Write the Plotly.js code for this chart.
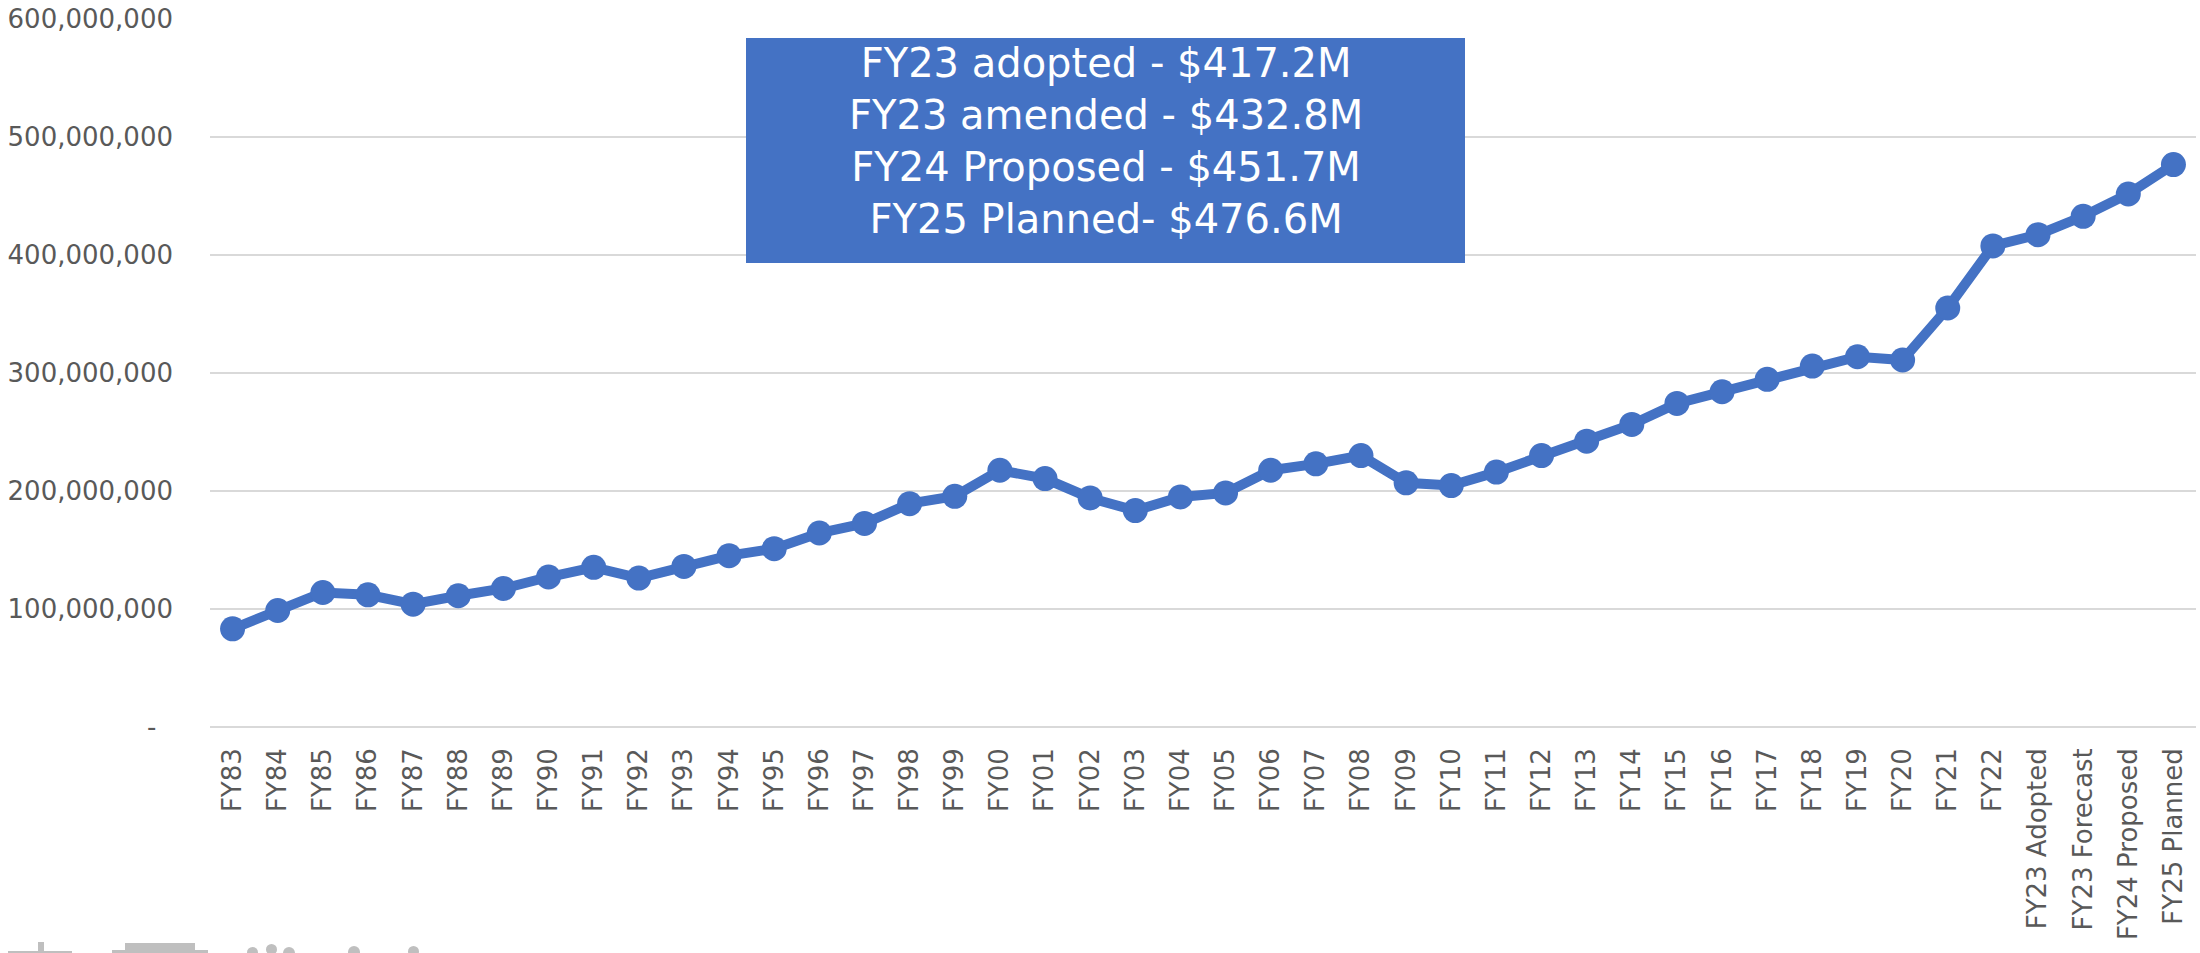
<!DOCTYPE html>
<html>
<head>
<meta charset="utf-8">
<script src="https://cdn.plot.ly/plotly-3.0.1.min.js"></script>
<style>
html, body { margin: 0; padding: 0; background: #ffffff; }
#chart { width: 2200px; height: 953px; }
</style>
</head>
<body>
<div id="chart"></div>
<script>
const categories = [
  "FY83","FY84","FY85","FY86","FY87","FY88","FY89","FY90","FY91","FY92",
  "FY93","FY94","FY95","FY96","FY97","FY98","FY99","FY00","FY01","FY02",
  "FY03","FY04","FY05","FY06","FY07","FY08","FY09","FY10","FY11","FY12",
  "FY13","FY14","FY15","FY16","FY17","FY18","FY19","FY20","FY21","FY22",
  "FY23 Adopted","FY23 Forecast","FY24 Proposed","FY25 Planned"
];

const budget = [
  83200000, 98700000, 114000000, 112000000, 104100000, 111200000, 117400000, 127100000, 135300000, 126200000,
  136100000, 145200000, 151100000, 164400000, 172500000, 189300000, 195500000, 217600000, 210500000, 194100000,
  183400000, 195000000, 198400000, 217600000, 223000000, 230000000, 206900000, 204600000, 216000000, 230000000,
  242200000, 256400000, 274200000, 284100000, 294600000, 305900000, 313800000, 311000000, 355100000, 407700000,
  417200000, 432800000, 451700000, 476600000
];

const yTickVals = [0, 100000000, 200000000, 300000000, 400000000, 500000000, 600000000];
const yTickText = ["-\u00a0\u00a0", "100,000,000", "200,000,000", "300,000,000", "400,000,000", "500,000,000", "600,000,000"];

const noteLines = [
  "FY23 adopted - $417.2M",
  "FY23 amended - $432.8M",
  "FY24 Proposed - $451.7M",
  "FY25 Planned- $476.6M"
];

const blue = "#4472C4";
const grey = "#595959";
const grid = "#d9d9d9";
const font = "DejaVu Sans, Liberation Sans, sans-serif";
const logoGrey = "#bfbfbf";

const trace = {
  type: "scatter",
  mode: "lines+markers",
  x: categories,
  y: budget,
  line: { color: blue, width: 10 },
  marker: { color: blue, size: 25 },
  hoverinfo: "x+y",
  cliponaxis: false
};

// helper to convert pixel positions of decorative elements to paper coords
const L = 210, T = 19, W = 1986, H = 708;
const px = x => (x - L) / W;
const py = y => (T + H - y) / H;

const shapes = [
  { type: "rect", xref: "paper", yref: "paper", x0: px(746), x1: px(1465), y0: py(263), y1: py(38),
    fillcolor: blue, line: { width: 0 }, layer: "above" },
  // partial grey logo at bottom-left (cut off by the picture edge)
  { type: "rect", xref: "paper", yref: "paper", x0: px(8), x1: px(72), y0: py(960), y1: py(951),
    fillcolor: logoGrey, line: { width: 0 } },
  { type: "rect", xref: "paper", yref: "paper", x0: px(38), x1: px(44), y0: py(960), y1: py(942),
    fillcolor: logoGrey, line: { width: 0 } },
  { type: "rect", xref: "paper", yref: "paper", x0: px(112), x1: px(208), y0: py(960), y1: py(950),
    fillcolor: logoGrey, line: { width: 0 } },
  { type: "rect", xref: "paper", yref: "paper", x0: px(125), x1: px(195), y0: py(960), y1: py(943),
    fillcolor: logoGrey, line: { width: 0 } },
  { type: "circle", xref: "paper", yref: "paper", x0: px(247), x1: px(258), y0: py(958), y1: py(947),
    fillcolor: logoGrey, line: { width: 0 } },
  { type: "circle", xref: "paper", yref: "paper", x0: px(266), x1: px(277), y0: py(955), y1: py(944),
    fillcolor: logoGrey, line: { width: 0 } },
  { type: "circle", xref: "paper", yref: "paper", x0: px(283), x1: px(295), y0: py(959), y1: py(947),
    fillcolor: logoGrey, line: { width: 0 } },
  { type: "circle", xref: "paper", yref: "paper", x0: px(348), x1: px(360), y0: py(958), y1: py(946),
    fillcolor: logoGrey, line: { width: 0 } },
  { type: "circle", xref: "paper", yref: "paper", x0: px(408), x1: px(419), y0: py(957), y1: py(946),
    fillcolor: logoGrey, line: { width: 0 } }
];

const layout = {
  width: 2200,
  height: 953,
  margin: { l: L, r: 2200 - L - W, t: T, b: 953 - T - H, pad: 0 },
  paper_bgcolor: "#ffffff",
  plot_bgcolor: "#ffffff",
  showlegend: false,
  font: { family: font, color: grey, size: 26 },
  xaxis: {
    type: "category",
    range: [-0.5, categories.length - 0.5],
    tickangle: -90,
    showgrid: false,
    zeroline: false,
    showline: false,
    ticks: "",
    ticklabelstandoff: 15,
    tickfont: { family: font, size: 26, color: grey },
    automargin: false
  },
  yaxis: {
    range: [0, 600000000],
    tickvals: yTickVals,
    ticktext: yTickText,
    showgrid: true,
    gridcolor: grid,
    gridwidth: 2,
    zeroline: true,
    zerolinecolor: grid,
    zerolinewidth: 2,
    showline: false,
    ticks: "",
    ticklabelstandoff: 36,
    tickfont: { family: font, size: 26, color: grey },
    automargin: false,
    fixedrange: true
  },
  shapes: shapes,
  annotations: [
    {
      xref: "paper", yref: "paper",
      x: px(1105.5), y: py(141),
      xanchor: "center", yanchor: "middle",
      text: noteLines.join("<br>"),
      showarrow: false,
      align: "center",
      font: { family: font, size: 40, color: "#ffffff" }
    }
  ]
};

Plotly.newPlot("chart", [trace], layout, { displayModeBar: false, staticPlot: true });
</script>
</body>
</html>
